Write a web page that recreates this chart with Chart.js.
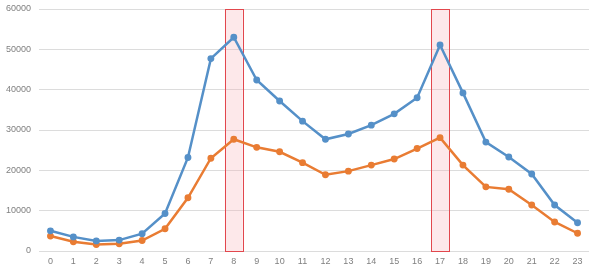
<!DOCTYPE html>
<html>
<head>
<meta charset="utf-8">
<script src="https://cdn.jsdelivr.net/npm/chart.js@4"></script>
<style>
html,body{margin:0;padding:0;background:#fff;}
#wrap{width:600px;height:268px;position:relative;}
</style>
</head>
<body>
<div id="wrap"><canvas id="c" width="600" height="268"></canvas></div>
<script>
const hours = ['0','1','2','3','4','5','6','7','8','9','10','11','12','13','14','15','16','17','18','19','20','21','22','23'];
const seriesBlue = [5000,3500,2500,2700,4300,9300,23200,47700,53000,42400,37200,32200,27700,29000,31200,34000,38000,51100,39200,27000,23300,19100,11400,7000];
const seriesOrange = [3700,2300,1600,1800,2600,5500,13200,23000,27700,25700,24600,21900,18900,19800,21300,22800,25400,28100,21300,15900,15300,11400,7200,4400];
const yTicks = [0,10000,20000,30000,40000,50000,60000];
const highlighted = ['8','17'];

const highlightPlugin = {
  id: 'highlight',
  beforeDatasetsDraw(chart) {
    const {ctx, scales:{x, y}} = chart;
    const catW = (x.getPixelForValue(1) - x.getPixelForValue(0));
    const w = catW * 0.78;
    const top = y.getPixelForValue(yTicks[yTicks.length-1]);
    const bot = y.getPixelForValue(yTicks[0]);
    ctx.save();
    highlighted.forEach(h => {
      const cx = x.getPixelForValue(hours.indexOf(h));
      ctx.fillStyle = 'rgba(250,180,185,0.3)';
      ctx.fillRect(cx - w/2, top, w, bot - top);
      ctx.strokeStyle = '#e2474d';
      ctx.lineWidth = 1;
      ctx.strokeRect(Math.round(cx - w/2)+0.5, Math.round(top)+0.5, Math.round(w), Math.round(bot-top));
    });
    ctx.restore();
  }
};

new Chart(document.getElementById('c'), {
  type: 'line',
  data: {
    labels: hours,
    datasets: [
      {data: seriesBlue, borderColor:'#5590c8', backgroundColor:'#5590c8', borderWidth:2.5, pointRadius:2.2, pointHoverRadius:2.2, tension:0},
      {data: seriesOrange, borderColor:'#e97c33', backgroundColor:'#e97c33', borderWidth:2.5, pointRadius:2.2, pointHoverRadius:2.2, tension:0}
    ]
  },
  options: {
    responsive:false,
    animation:false,
    layout:{padding:{top:9,right:11,left:0,bottom:0}},
    plugins:{legend:{display:false}, tooltip:{enabled:false}},
    scales:{
      x:{
        offset:true,
        grid:{display:false, drawTicks:false},
        border:{display:false},
        ticks:{color:'#7f7f7f', font:{family:'Liberation Sans', size:9}, padding:5, maxRotation:0, autoSkip:false},
        afterFit(s){ s.height = 17; s.paddingLeft = 0; s.paddingRight = 0; }
      },
      y:{
        min:0, max:60000,
        afterBuildTicks(s){ s.ticks = yTicks.map(v=>({value:v})); },
        grid:{color:'#dcdcdc', lineWidth:1, drawTicks:false},
        border:{display:false},
        ticks:{color:'#7f7f7f', font:{family:'Liberation Sans', size:9}, padding:8, callback:(v)=>String(v)},
        afterFit(s){ s.width = 39; s.paddingTop = 0; s.paddingBottom = 0; }
      }
    }
  },
  plugins:[highlightPlugin]
});
</script>
</body>
</html>
